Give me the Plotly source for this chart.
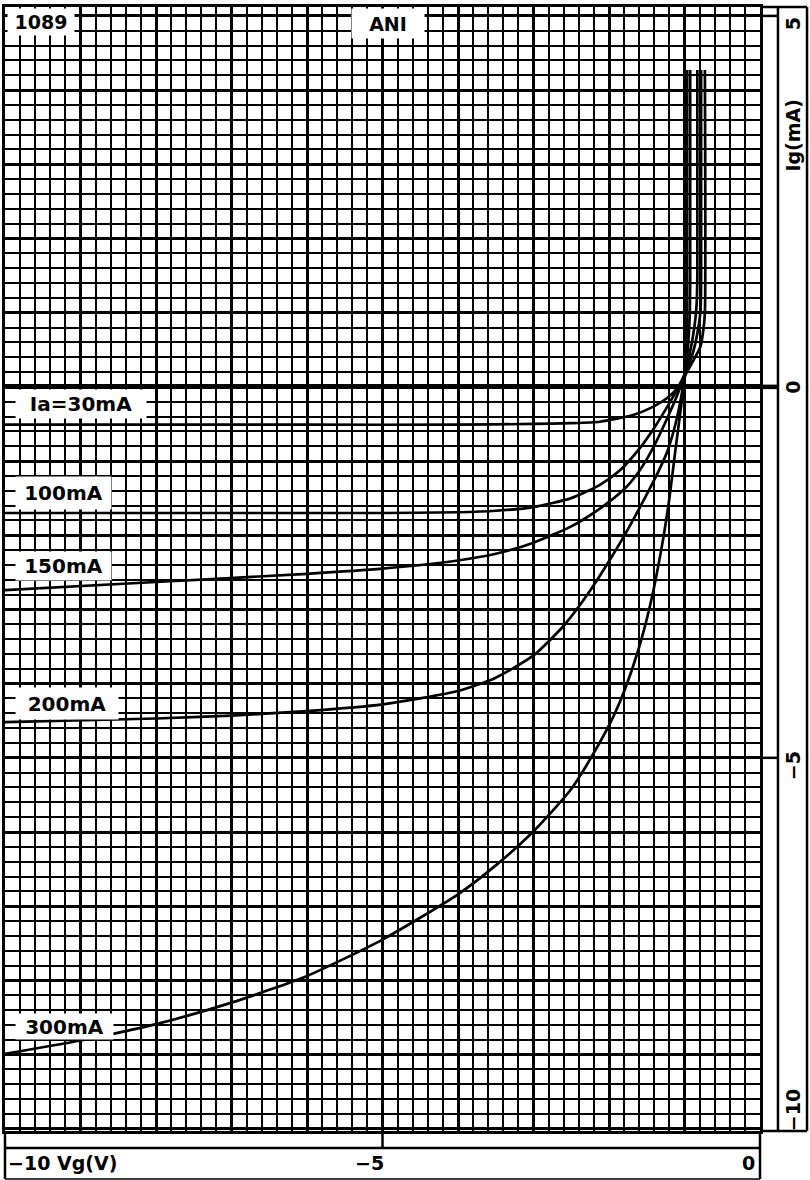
import plotly.graph_objects as go

# ---------------- data ----------------
anode_labels = ["Ia=30mA", "100mA", "150mA", "200mA", "300mA"]

vg_30 = [-10, -6, -4, -3, -2.5, -2.12, -1.68, -1.46, -1.23, -1.08, -0.99, -0.88, -0.79, -0.75, -0.73, -0.73]
ig_30 = [-0.51, -0.51, -0.51, -0.50, -0.49, -0.47, -0.38, -0.29, -0.15, 0.0, 0.16, 0.36, 0.54, 0.77, 1.0, 4.27]

vg_100 = [-10, -5, -4, -3.5, -3, -2.5, -2.12, -1.85, -1.61, -1.4, -1.2, -1.08, -0.99, -0.9, -0.83, -0.79, -0.78, -0.78]
ig_100 = [-1.70, -1.70, -1.69, -1.67, -1.62, -1.5, -1.32, -1.12, -0.85, -0.55, -0.22, 0.0, 0.19, 0.42, 0.72, 1.0, 1.4, 4.27]

vg_150 = [-10, -8, -6, -5, -4, -3.5, -3, -2.5, -2.12, -1.8, -1.61, -1.43, -1.25, -1.1, -0.99, -0.93, -0.87, -0.84, -0.83, -0.83]
ig_150 = [-2.74, -2.63, -2.52, -2.45, -2.34, -2.25, -2.1, -1.88, -1.64, -1.38, -1.15, -0.85, -0.47, -0.12, 0.19, 0.45, 0.8, 1.1, 1.5, 4.27]

vg_200 = [-10, -8, -7, -6, -5, -4, -3.5, -3, -2.6, -2.3, -2.0, -1.75, -1.5, -1.35, -1.22, -1.1, -1.03, -0.99, -0.95, -0.93, -0.925, -0.925]
ig_200 = [-4.52, -4.47, -4.43, -4.37, -4.28, -4.1, -3.92, -3.62, -3.22, -2.82, -2.35, -1.92, -1.45, -1.15, -0.85, -0.42, -0.06, 0.19, 0.6, 1.0, 1.4, 4.27]

vg_300 = [-10, -9, -8, -7, -6, -5, -4, -3.5, -3, -2.5, -2.12, -1.94, -1.79, -1.61, -1.45, -1.3, -1.2, -1.12, -1.05, -0.99, -0.975, -0.965, -0.965]
ig_300 = [-8.99, -8.81, -8.59, -8.3, -7.94, -7.45, -6.84, -6.45, -5.99, -5.42, -4.79, -4.44, -4.08, -3.54, -2.92, -2.15, -1.5, -0.85, -0.3, 0.19, 0.6, 1.0, 4.27]

x_tick_labels = ["\u221210 Vg(V)", "\u22125", "0"]
y_tick_labels = ["5", "Ig(mA)", "0", "\u22125", "\u221210"]
corner_labels = ["1089", "ANI"]

# ---------------- figure ----------------
X_RANGE = [-10, 0]
Y_RANGE = [-10.03, 5.12]
INK = "black"
FONT = "DejaVu Sans"

fig = go.Figure()
for vg, ig in [(vg_30, ig_30), (vg_100, ig_100), (vg_150, ig_150), (vg_200, ig_200), (vg_300, ig_300)]:
    fig.add_trace(go.Scatter(x=vg, y=ig, mode="lines",
                             line=dict(color=INK, width=2.7, shape="spline", smoothing=0.6),
                             hoverinfo="skip", showlegend=False))

grid_common = dict(showgrid=True, gridcolor=INK, gridwidth=2.5, showticklabels=False, ticks="",
                   showline=True, linecolor=INK, linewidth=2.6, mirror=True, fixedrange=True)
fig.update_xaxes(range=X_RANGE, dtick=1, tick0=-10, zeroline=False,
                 minor=dict(dtick=0.2, tick0=-10, showgrid=True, gridcolor=INK, gridwidth=1.8),
                 **grid_common)
fig.update_yaxes(range=Y_RANGE, dtick=1, tick0=0, zeroline=True, zerolinecolor=INK, zerolinewidth=4.5,
                 minor=dict(dtick=0.2, tick0=0, showgrid=True, gridcolor=INK, gridwidth=1.8),
                 **grid_common)

def xp(v):
    return (v - X_RANGE[0]) / (X_RANGE[1] - X_RANGE[0])

# paper positions of the frame around the grid
R_IN = 1.0238   # inner line of the right label strip
R_OUT = 1.0623  # outer right border
B_LINE = -0.0151  # line of the bottom label strip
B_OUT = -0.0427   # bottom border

def seg(x0, y0, x1, y1, w=2.5, xref="paper", yref="paper"):
    return dict(type="line", xref=xref, yref=yref, x0=x0, y0=y0, x1=x1, y1=y1,
                line=dict(color=INK, width=w), layer="above")

shapes = [
    seg(1, 1, R_OUT, 1), seg(R_OUT, 0, R_OUT, 1), seg(R_IN, 0, R_IN, 1), seg(1, 0, R_OUT, 0),
    seg(0, B_LINE, 1, B_LINE), seg(0, B_OUT, 0, 0), seg(1, B_OUT, 1, 0), seg(0, B_OUT, 1, B_OUT, w=1.5),
    seg(xp(-5), 0, xp(-5), B_LINE),
    seg(1, 5, R_IN, 5, yref="y"), seg(1, 0, R_IN, 0, w=4.5, yref="y"), seg(1, -5, R_IN, -5, yref="y"),
]

ann = []
def label(text, size=19, **kw):
    base = dict(text="<b>%s</b>" % text, showarrow=False, font=dict(family=FONT, size=size, color=INK))
    base.update(kw)
    ann.append(base)

# curve labels in white boxes at the left
box_specs = [(-0.23, 130, 28), (-1.43, 95, 32), (-2.42, 95, 28), (-4.27, 102, 31), (-8.62, 97, 25)]
for txt, (yv, w, h) in zip(anode_labels, box_specs):
    label(txt, size=20, x=-9.868, y=yv, xref="x", yref="y", xanchor="left", yanchor="middle",
          width=w, height=h, align="center", bgcolor="white", borderpad=0)

# corner labels
label(corner_labels[0], x=-10, y=Y_RANGE[1], xref="x", yref="y", xanchor="left", yanchor="top",
      width=66, height=26, align="center", bgcolor="white", borderpad=0, xshift=2, yshift=-1)
label(corner_labels[1], x=-4.93, y=Y_RANGE[1], xref="x", yref="y", xanchor="center", yanchor="top",
      width=72, height=29, align="center", bgcolor="white", borderpad=0, yshift=-1)

# right strip labels (rotated)
for txt, yv in zip(y_tick_labels, [4.9, 3.4, 0, -5.1, -9.75]):
    label(txt, x=1.0437, y=yv, xref="paper", yref="y", xanchor="center", yanchor="middle", textangle=-90)

# bottom strip labels
label(x_tick_labels[0], x=-10, y=-0.0285, xref="x", yref="paper", xanchor="left", yanchor="middle", xshift=1)
label(x_tick_labels[1], x=-5.17, y=-0.0285, xref="x", yref="paper", xanchor="center", yanchor="middle")
label(x_tick_labels[2], x=0, y=-0.0285, xref="x", yref="paper", xanchor="right", yanchor="middle", xshift=-3)

fig.update_layout(width=810, height=1180, autosize=False,
                  margin=dict(l=5, r=50, t=7, b=49, pad=0),
                  paper_bgcolor="white", plot_bgcolor="white", showlegend=False,
                  shapes=shapes, annotations=ann,
                  font=dict(family=FONT, color=INK))

fig.write_html("out.html", config={"displayModeBar": False},
               post_script="document.body.style.margin='0';document.body.style.overflow='hidden';"
                           "document.documentElement.style.overflow='hidden';")
